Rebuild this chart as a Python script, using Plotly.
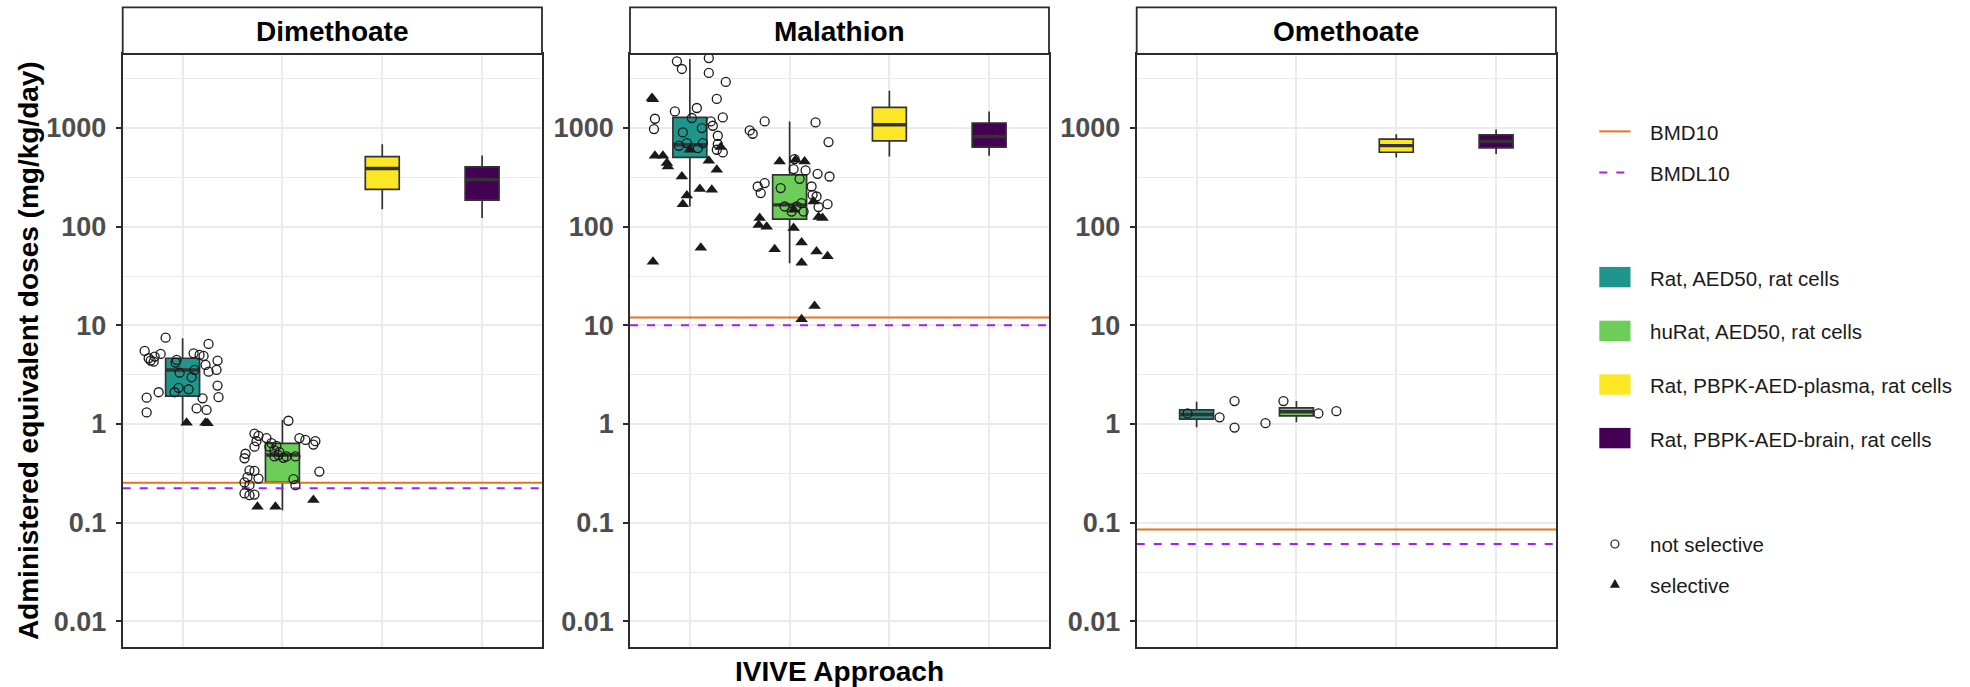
import plotly.graph_objects as go

# ---------------- data ----------------
CHEMICALS = ["Dimethoate", "Malathion", "Omethoate"]
APPROACHES = ["Rat, AED50, rat cells", "huRat, AED50, rat cells",
              "Rat, PBPK-AED-plasma, rat cells", "Rat, PBPK-AED-brain, rat cells"]
BOX_COLORS = ["#1F968B", "#6DCD59", "#FDE725", "#440154"]

Y_TICK_VALUES = [0.01, 0.1, 1, 10, 100, 1000]
Y_TICK_TEXT = ["0.01", "0.1", "1", "10", "100", "1000"]
Y_MINOR_VALUES = [0.0316, 0.316, 3.16, 31.6, 316, 3162]

BMD10 = [0.254, 12.0, 0.0855]
BMDL10 = [0.223, 10.0, 0.061]

# box statistics: one row per chemical, one entry per approach
BOX_LOWER = [[1.02, 0.134, 150, 122], [160, 42.6, 514, 522], [0.93, 1.04, 501, 545]]
BOX_Q1 = [[1.92, 0.256, 238, 186], [502, 119, 741, 640], [1.12, 1.21, 567, 628]]
BOX_MEDIAN = [[3.53, 0.485, 388, 300], [676, 166, 1077, 820], [1.25, 1.33, 661, 733]]
BOX_Q3 = [[4.64, 0.637, 512, 404], [1277, 335, 1614, 1122], [1.39, 1.46, 770, 853]]
BOX_UPPER = [[7.4, 1.10, 682, 527], [5000, 1164, 2384, 1469], [1.68, 1.71, 863, 966]]

# individual points (value) and their jitter (category units)
DIM_RAT_NS = [7.50, 5.50, 4.64, 4.39, 4.28, 4.82, 5.13, 4.46, 4.19, 3.31, 5.21, 5.01, 6.48, 4.90,
              3.53, 3.97, 3.39, 4.39, 3.53, 2.98, 2.33, 2.25, 2.10, 2.10, 1.85, 2.45, 1.87, 1.82,
              1.44, 1.39, 1.31]
DIM_RAT_NS_JIT = [-0.17, -0.38, -0.34, -0.32, -0.29, -0.28, -0.22, -0.06, -0.07, -0.03, 0.11, 0.17,
                  0.26, 0.21, 0.12, 0.23, 0.26, 0.35, 0.34, 0.09, -0.04, 0.06, -0.08, -0.24, -0.36,
                  0.35, 0.36, 0.20, 0.14, 0.24, -0.36]
DIM_RAT_S = [1.03, 1.03, 1.02]
DIM_RAT_S_JIT = [0.04, 0.23, 0.25]

DIM_HU_NS = [1.08, 0.80, 0.76, 0.67, 0.59, 0.50, 0.45, 0.72, 0.64, 0.60, 0.54, 0.52, 0.47, 0.455,
             0.47, 0.72, 0.69, 0.62, 0.67, 0.33, 0.277, 0.24, 0.34, 0.336, 0.28, 0.29, 0.256, 0.24,
             0.198, 0.19, 0.193, 0.59, 0.47, 0.485]
DIM_HU_NS_JIT = [0.06, -0.28, -0.24, -0.26, -0.28, -0.37, -0.38, -0.16, -0.11, -0.06, -0.08, -0.03,
                 -0.08, 0.01, 0.13, 0.17, 0.23, 0.31, 0.33, 0.37, 0.11, 0.13, -0.33, -0.28, -0.24,
                 -0.35, -0.38, -0.33, -0.38, -0.33, -0.28, -0.13, 0.04, -0.04]
DIM_HU_S = [0.145, 0.145, 0.17]
DIM_HU_S_JIT = [-0.25, -0.07, 0.31]

MAL_RAT_NS = [4724, 3956, 5100, 3605, 2924, 1965, 1592, 1469, 1277, 1239, 974, 1260, 1164, 1052,
              997, 900, 833, 703, 687, 660, 703, 625, 601, 565]
MAL_RAT_NS_JIT = [-0.13, -0.08, 0.19, 0.19, 0.36, 0.27, 0.07, -0.15, 0.33, -0.35, -0.36, 0.02, 0.21,
                  0.23, 0.12, -0.07, 0.28, 0.13, 0.28, -0.11, -0.03, 0.08, 0.27, 0.33]
MAL_RAT_S = [2011, 1950, 522, 522, 441, 407, 601, 465, 377, 322, 240, 236, 207, 169, 61, 44, 640]
MAL_RAT_S_JIT = [-0.38, -0.37, -0.35, -0.27, -0.23, -0.22, 0.0, 0.19, 0.27, -0.08, 0.10, 0.22,
                 -0.03, -0.07, 0.11, -0.37, 0.31]

MAL_HU_NS = [1164, 944, 873, 1137, 719, 484, 383, 371, 343, 322, 305, 276, 255, 219, 246, 255, 202,
             169, 158, 160, 142, 173, 142, 160, 210]
MAL_HU_NS_JIT = [-0.25, -0.40, -0.37, 0.26, 0.39, 0.05, 0.04, 0.16, 0.28, 0.40, 0.10, -0.25, -0.32,
                 -0.29, -0.09, 0.22, 0.27, 0.38, 0.29, -0.05, 0.02, 0.12, 0.14, 0.07, 0.23]
MAL_HU_S = [457, 457, 476, 122, 104, 100, 125, 122, 180, 97, 69, 59, 56, 50, 43, 15.7, 11.5, 148]
MAL_HU_S_JIT = [-0.10, 0.15, 0.06, -0.30, -0.31, -0.23, 0.29, 0.33, 0.24, 0.04, 0.12, -0.15, 0.27,
                0.38, 0.12, 0.25, 0.12, 0.04]

OME_RAT_NS = [1.28, 1.17, 1.71, 0.92]
OME_RAT_NS_JIT = [-0.09, 0.23, 0.38, 0.38]
OME_HU_NS = [1.71, 1.28, 1.35, 1.02]
OME_HU_NS_JIT = [-0.13, 0.22, 0.40, -0.31]

# points per chemical: (approach index, values, jitter, selective?)
POINT_GROUPS = [
    [(0, DIM_RAT_NS, DIM_RAT_NS_JIT, False), (0, DIM_RAT_S, DIM_RAT_S_JIT, True),
     (1, DIM_HU_NS, DIM_HU_NS_JIT, False), (1, DIM_HU_S, DIM_HU_S_JIT, True)],
    [(0, MAL_RAT_NS, MAL_RAT_NS_JIT, False), (0, MAL_RAT_S, MAL_RAT_S_JIT, True),
     (1, MAL_HU_NS, MAL_HU_NS_JIT, False), (1, MAL_HU_S, MAL_HU_S_JIT, True)],
    [(0, OME_RAT_NS, OME_RAT_NS_JIT, False), (1, OME_HU_NS, OME_HU_NS_JIT, False)],
]

# ---------------- layout / style ----------------
W, H = 1970, 687
FONT = "Liberation Sans, Arial, sans-serif"
PANEL_X = [(122.7, 542.0), (630.0, 1049.0), (1136.7, 1556.0)]
PLOT_TOP, PLOT_BOTTOM, STRIP_TOP = 54.0, 647.2, 7.4
X_RANGE = [0.4, 4.6]
Y_RANGE = [-2.261, 3.749]
BOX_W = 0.34
FRAME = "#2B2B2B"
GRID = "#EBEBEB"
ORANGE = "#E0761E"
PURPLE = "#A020F0"


def px(x):
    return x / W


def py(y):
    return 1 - y / H


fig = go.Figure()
layout_axes = {}
shapes = []
annotations = []

for i, chem in enumerate(CHEMICALS):
    sfx = "" if i == 0 else str(i + 1)
    xa, ya = "x" + sfx, "y" + sfx
    # boxes
    for j in range(len(APPROACHES)):
        fig.add_trace(go.Box(
            x=[j + 1], q1=[BOX_Q1[i][j]], median=[BOX_MEDIAN[i][j]], q3=[BOX_Q3[i][j]],
            lowerfence=[BOX_LOWER[i][j]], upperfence=[BOX_UPPER[i][j]],
            width=BOX_W, fillcolor=BOX_COLORS[j], line=dict(color="#333333", width=1.7),
            whiskerwidth=0, boxpoints=False, showlegend=False, hoverinfo="skip",
            xaxis=xa, yaxis=ya))
        # thicker median bar (ggplot fatten)
        fig.add_trace(go.Scatter(
            x=[j + 1 - BOX_W / 2, j + 1 + BOX_W / 2],
            y=[BOX_MEDIAN[i][j], BOX_MEDIAN[i][j]], mode="lines",
            line=dict(color="#333333", width=3.4), showlegend=False, hoverinfo="skip",
            xaxis=xa, yaxis=ya))
    # reference lines
    fig.add_trace(go.Scatter(x=X_RANGE, y=[BMD10[i]] * 2, mode="lines",
                             line=dict(color=ORANGE, width=2), showlegend=False,
                             xaxis=xa, yaxis=ya))
    fig.add_trace(go.Scatter(x=X_RANGE, y=[BMDL10[i]] * 2, mode="lines",
                             line=dict(color=PURPLE, width=2, dash="8px,9px"), showlegend=False,
                             xaxis=xa, yaxis=ya))
    # points
    for (j, vals, jit, sel) in POINT_GROUPS[i]:
        xs = [j + 1 + d for d in jit]
        if sel:
            marker = dict(symbol="triangle-up", size=11, color="#1A1A1A", line=dict(width=0))
        else:
            marker = dict(symbol="circle-open", size=9, color="#1A1A1A", line=dict(width=1.3))
        fig.add_trace(go.Scatter(x=xs, y=vals, mode="markers", marker=marker,
                                 showlegend=False, xaxis=xa, yaxis=ya, cliponaxis=True))

    x0, x1 = PANEL_X[i]
    layout_axes["xaxis" + sfx] = dict(
        domain=[px(x0), px(x1)], range=X_RANGE, anchor=ya,
        tickvals=[1, 2, 3, 4], showticklabels=False, ticks="",
        showgrid=True, gridcolor=GRID, gridwidth=1.6, zeroline=False,
        showline=True, mirror=True, linecolor=FRAME, linewidth=1.8, fixedrange=True)
    layout_axes["yaxis" + sfx] = dict(
        domain=[py(PLOT_BOTTOM), py(PLOT_TOP)], type="log", range=Y_RANGE, anchor=xa,
        tickmode="array", tickvals=Y_TICK_VALUES, ticktext=Y_TICK_TEXT,
        ticks="outside", ticklen=5, tickwidth=1.5, tickcolor=FRAME,
        ticklabelstandoff=4,
        tickfont=dict(family=FONT, size=27, color="#4D4D4D", weight="bold"),
        showgrid=True, gridcolor=GRID, gridwidth=1.6, zeroline=False,
        minor=dict(tickmode="array", tickvals=Y_MINOR_VALUES, showgrid=True,
                   gridcolor=GRID, gridwidth=0.9, ticks=""),
        showline=True, mirror=True, linecolor=FRAME, linewidth=1.8, fixedrange=True)

    # facet strip
    shapes.append(dict(type="rect", xref="paper", yref="paper",
                       x0=px(x0), x1=px(x1), y0=py(PLOT_TOP), y1=py(STRIP_TOP),
                       fillcolor="white", line=dict(color=FRAME, width=1.8), layer="above"))
    annotations.append(dict(text=chem, xref="paper", yref="paper",
                            x=px((x0 + x1) / 2), y=py(31.5), xanchor="center", yanchor="middle",
                            showarrow=False,
                            font=dict(family=FONT, size=28, color="black", weight="bold")))

# axis titles
annotations.append(dict(text="Administered equivalent doses (mg/kg/day)", xref="paper", yref="paper",
                        x=px(28.5), y=py((PLOT_TOP + PLOT_BOTTOM) / 2), textangle=-90,
                        xanchor="center", yanchor="middle", showarrow=False,
                        font=dict(family=FONT, size=28, color="black", weight="bold")))
annotations.append(dict(text="IVIVE Approach", xref="paper", yref="paper",
                        x=px(sum(PANEL_X[1]) / 2), y=py(671), xanchor="center", yanchor="middle",
                        showarrow=False,
                        font=dict(family=FONT, size=28, color="black", weight="bold")))

# ---------------- manual legend ----------------
LEG_KEY_X0, LEG_KEY_X1, LEG_TEXT_X = 1599.3, 1630.5, 1648.0
LEG_FONT = dict(family=FONT, size=20.5, color="#1A1A1A")


def leg_text(txt, yc):
    annotations.append(dict(text=txt, xref="paper", yref="paper", x=px(LEG_TEXT_X), y=py(yc),
                            xanchor="left", yanchor="middle", showarrow=False, font=LEG_FONT))


shapes.append(dict(type="line", xref="paper", yref="paper", x0=px(LEG_KEY_X0), x1=px(LEG_KEY_X1),
                   y0=py(131.4), y1=py(131.4), line=dict(color=ORANGE, width=2)))
leg_text("BMD10", 132.4)
shapes.append(dict(type="line", xref="paper", yref="paper", x0=px(LEG_KEY_X0), x1=px(LEG_KEY_X1),
                   y0=py(172.5), y1=py(172.5), line=dict(color=PURPLE, width=2, dash="8px,9px")))
leg_text("BMDL10", 173.4)

KEY_CENTERS = [277.1, 330.9, 384.5, 438.1]
TEXT_CENTERS = [278.5, 331.8, 385.6, 439.2]
for j, name in enumerate(APPROACHES):
    shapes.append(dict(type="rect", xref="paper", yref="paper",
                       x0=px(LEG_KEY_X0), x1=px(LEG_KEY_X1),
                       y0=py(KEY_CENTERS[j] + 10.2), y1=py(KEY_CENTERS[j] - 10.2),
                       fillcolor=BOX_COLORS[j], line=dict(width=0)))
    leg_text(name, TEXT_CENTERS[j])

cx = (LEG_KEY_X0 + LEG_KEY_X1) / 2
shapes.append(dict(type="circle", xref="paper", yref="paper",
                   x0=px(cx - 4), x1=px(cx + 4), y0=py(544 + 4), y1=py(544 - 4),
                   line=dict(color="#1A1A1A", width=1.2), fillcolor="rgba(0,0,0,0)"))
leg_text("not selective", 544.8)
ty = 583.6
shapes.append(dict(type="path", xref="paper", yref="paper",
                   path=(f"M {px(cx)},{py(ty - 4.6)} L {px(cx - 5)},{py(ty + 4.1)} "
                         f"L {px(cx + 5)},{py(ty + 4.1)} Z"),
                   fillcolor="#1A1A1A", line=dict(width=0)))
leg_text("selective", 585.0)

fig.update_layout(
    width=W, height=H, margin=dict(l=0, r=0, t=0, b=0),
    paper_bgcolor="white", plot_bgcolor="white", showlegend=False,
    font=dict(family=FONT), shapes=shapes, annotations=annotations,
    **layout_axes)

fig.write_html("out.html", config={"displayModeBar": False})
